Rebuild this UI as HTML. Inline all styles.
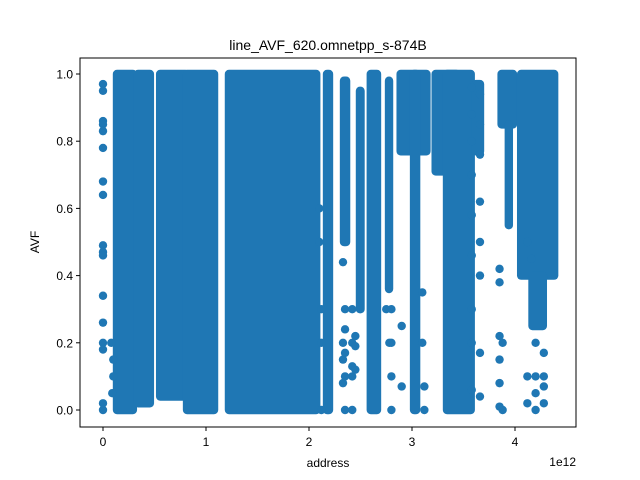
<!DOCTYPE html>
<html><head><meta charset="utf-8"><style>
body{margin:0;background:#fff}
svg{display:block;font-family:"Liberation Sans","DejaVu Sans",sans-serif}
</style></head><body>
<svg id="chart" width="640" height="480" viewBox="0 0 640 480">
<rect width="640" height="480" fill="#fff"/>
<text x="328" y="50" font-size="14" text-anchor="middle">line_AVF_620.omnetpp_s-874B</text>
<g id="marks"></g>
<rect x="80" y="58" width="496" height="369" fill="none" stroke="#000" stroke-width="1"/>
<g id="axes"></g>
<text x="328" y="467" font-size="12" text-anchor="middle">address</text>
<text x="576" y="466" font-size="12" text-anchor="end">1e12</text>
<text x="0" y="0" font-size="12" text-anchor="middle" transform="translate(39,242) rotate(-90)">AVF</text>
</svg>
<script>
// dense column bands (address in 1e12, AVF range)
const bandX0 = [0.136,0.34,0.555,0.816,1.223,2.175,2.34,2.495,2.60,2.777,2.89,3.02,3.23,3.34,3.62,3.87,3.94,4.06,4.17];
const bandX1 = [0.29,0.455,0.80,1.078,2.07,2.194,2.36,2.50,2.66,2.777,3.14,3.04,3.43,3.57,3.66,3.98,3.94,4.38,4.27];
const bandLow = [0.0,0.02,0.04,0.0,0.0,0.0,0.5,0.3,0.0,0.36,0.77,0.0,0.71,0.0,0.77,0.85,0.55,0.4,0.25];
const bandHigh = [1.0,1.0,1.0,1.0,1.0,1.0,0.98,0.95,1.0,0.98,1.0,1.0,1.0,1.0,0.97,1.0,0.85,1.0,0.4];
// scattered points
const ptX = [0,0,0,0,0,0,0,0,0,0,0,0,0,0,0,0,0,
 2.33,2.33,2.33,2.33,2.35,2.35,2.35,2.35,2.35,
 2.42,2.42,2.42,2.42,2.42,2.45,2.45,2.45,
 3.58,3.58,3.58,3.58,3.58,3.58,3.58,3.58,3.58,3.66,3.66,3.66,3.66,3.66,3.66,3.66,3.66,
 3.85,3.85,3.85,3.85,3.85,3.85,3.88,3.88,
 4.2,4.2,4.2,4.2,4.28,4.28,4.28,4.28,4.12,4.12,4.12,4.16,
 2.8,2.8,2.8,2.8,2.9,2.9,3.1,3.1,3.12,3.12,2.75,2.78,
 0.08,0.1,0.1,0.09,2.1,2.1,2.12,2.12,2.12];
const ptY = [0.97,0.95,0.86,0.85,0.83,0.78,0.68,0.64,0.49,0.47,0.46,0.34,0.26,0.2,0.18,0.02,0.0,
 0.44,0.2,0.15,0.08,0.3,0.24,0.17,0.1,0.0,
 0.3,0.2,0.13,0.1,0.0,0.22,0.19,0.12,
 0.96,0.88,0.8,0.7,0.58,0.46,0.3,0.2,0.06,0.94,0.85,0.76,0.62,0.5,0.4,0.17,0.04,
 0.42,0.38,0.22,0.15,0.08,0.01,0.2,0.0,
 0.2,0.1,0.05,0.0,0.17,0.1,0.07,0.02,0.1,0.02,0.5,0.45,
 0.3,0.2,0.1,0.0,0.25,0.07,0.35,0.2,0.07,0.0,0.3,0.2,
 0.2,0.15,0.1,0.05,0.6,0.5,0.3,0.2,0.0];
const xTicks = [0,1,2,3,4];
const xTickLabels = ["0","1","2","3","4"];
const yTicks = [0,0.2,0.4,0.6,0.8,1.0];
const yTickLabels = ["0.0","0.2","0.4","0.6","0.8","1.0"];

const NS = "http://www.w3.org/2000/svg";
function sx(v){return 103 + v*103;}
function sy(v){return 410 - v*336;}
const R = 4.2, C = "#1f77b4";
const marks = document.getElementById('marks');
for(let i=0;i<bandX0.length;i++){
  const r=document.createElementNS(NS,'rect');
  r.setAttribute('x', sx(bandX0[i])-R);
  r.setAttribute('y', sy(bandHigh[i])-R);
  r.setAttribute('width', sx(bandX1[i])-sx(bandX0[i])+2*R);
  r.setAttribute('height', sy(bandLow[i])-sy(bandHigh[i])+2*R);
  r.setAttribute('rx', R);
  r.setAttribute('fill', C);
  
  
  marks.appendChild(r);
}
for(let i=0;i<ptX.length;i++){
  const c=document.createElementNS(NS,'circle');
  c.setAttribute('cx', sx(ptX[i]));
  c.setAttribute('cy', sy(ptY[i]));
  c.setAttribute('r', R);
  c.setAttribute('fill', C);
  
  
  marks.appendChild(c);
}
const axes = document.getElementById('axes');
xTicks.forEach((t,i)=>{
  const l=document.createElementNS(NS,'line');
  l.setAttribute('x1',sx(t));l.setAttribute('x2',sx(t));
  l.setAttribute('y1',427);l.setAttribute('y2',431);
  l.setAttribute('stroke','#000');
  
  
  axes.appendChild(l);
  const tx=document.createElementNS(NS,'text');
  tx.setAttribute('x',sx(t));tx.setAttribute('y',446);
  tx.setAttribute('font-size','12');tx.setAttribute('text-anchor','middle');
  tx.textContent=xTickLabels[i];
  
  
  axes.appendChild(tx);
});
yTicks.forEach((t,i)=>{
  const l=document.createElementNS(NS,'line');
  l.setAttribute('x1',76);l.setAttribute('x2',80);
  l.setAttribute('y1',sy(t));l.setAttribute('y2',sy(t));
  l.setAttribute('stroke','#000');
  
  
  axes.appendChild(l);
  const tx=document.createElementNS(NS,'text');
  tx.setAttribute('x',73);tx.setAttribute('y',sy(t)+4.5);
  tx.setAttribute('font-size','12');tx.setAttribute('text-anchor','end');
  tx.textContent=yTickLabels[i];
  
  
  axes.appendChild(tx);
});
</script>
</body></html>
